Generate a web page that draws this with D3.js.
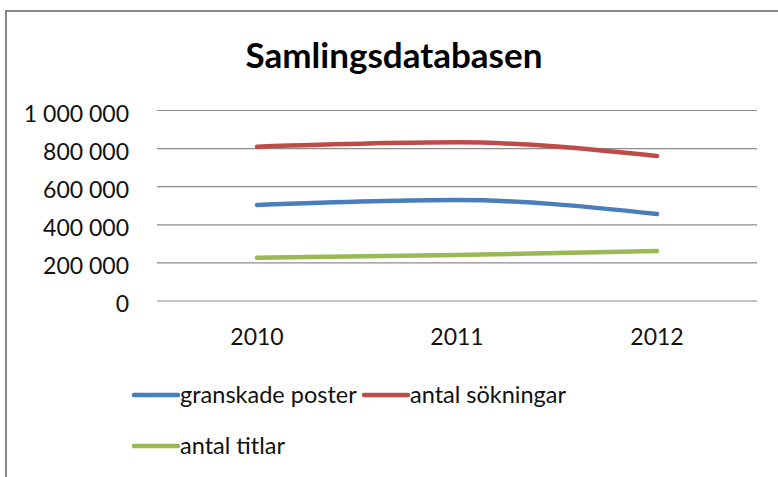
<html>
<head>
<script src="https://d3js.org/d3.v7.min.js"></script>
<style>
  body { margin: 0; background: #fff; }
  text { font-family: Lato, "Open Sans", sans-serif; }
</style>
</head>
<body>
<svg id="chart" width="778" height="477"></svg>
<script>
    var years = ['2010', '2011', '2012'];
    var granskade = [504000, 530000, 457000];
    var sokningar = [810000, 833000, 761000];
    var titlar = [227000, 241000, 262000];
    var yTicks = [0, 200000, 400000, 600000, 800000, 1000000];

    var series = [
        { name: 'granskade poster', values: granskade, color: '#4A7EBB' },
        { name: 'antal sökningar', values: sokningar, color: '#BE4B48' },
        { name: 'antal titlar', values: titlar, color: '#98B954' }
    ];

    var svg = d3.select('#chart');

    // outer frame
    svg.append('rect')
        .attr('x', 6).attr('y', 11)
        .attr('width', 800).attr('height', 500)
        .attr('fill', '#fff')
        .attr('stroke', '#868686')
        .attr('stroke-width', 2);

    svg.append('text')
        .attr('x', 394).attr('y', 68)
        .attr('text-anchor', 'middle')
        .attr('font-size', 35)
        .attr('font-weight', 'bold')
        .text('Samlingsdatabasen');

    var x = d3.scaleBand().domain(years).range([157, 757]);
    var y = d3.scaleLinear().domain([0, 1000000]).range([301, 110.5]);

    var fmt = function(d) {
        return d3.format(',')(d).replace(/,/g, ' ');
    };

    // gridlines
    svg.selectAll('line.grid')
        .data(yTicks)
        .enter()
        .append('line')
        .attr('class', 'grid')
        .attr('x1', 157).attr('x2', 757)
        .attr('y1', function(d) { return y(d); })
        .attr('y2', function(d) { return y(d); })
        .attr('stroke', '#8c8c8c')
        .attr('stroke-width', 1.2);

    svg.selectAll('text.ytick')
        .data(yTicks)
        .enter()
        .append('text')
        .attr('class', 'ytick')
        .attr('x', 129)
        .attr('y', function(d) { return y(d) + 11; })
        .attr('text-anchor', 'end')
        .attr('font-size', 23)
        .attr('fill', '#111')
        .text(fmt);

    svg.selectAll('text.xtick')
        .data(years)
        .enter()
        .append('text')
        .attr('class', 'xtick')
        .attr('x', function(d) { return x(d) + x.bandwidth() / 2; })
        .attr('y', 345)
        .attr('text-anchor', 'middle')
        .attr('font-size', 23)
        .attr('fill', '#111')
        .text(function(d) { return d; });

    var line = d3.line()
        .x(function(d, i) { return x(years[i]) + x.bandwidth() / 2; })
        .y(function(d) { return y(d); })
        .curve(d3.curveMonotoneX);

    svg.selectAll('path.series')
        .data(series)
        .enter()
        .append('path')
        .attr('class', 'series')
        .attr('fill', 'none')
        .attr('stroke', function(d) { return d.color; })
        .attr('stroke-width', 4.5)
        .attr('stroke-linecap', 'round')
        .attr('d', function(d) { return line(d.values); });

    // legend
    var legendPos = [[134, 395], [364, 395], [134, 446]];
    var leg = svg.selectAll('g.legend')
        .data(series)
        .enter()
        .append('g')
        .attr('class', 'legend')
        .attr('transform', function(d, i) { return 'translate(' + legendPos[i][0] + ',' + legendPos[i][1] + ')'; });

    leg.append('line')
        .attr('x1', 0).attr('x2', 44)
        .attr('stroke', function(d) { return d.color; })
        .attr('stroke-width', 4.5)
        .attr('stroke-linecap', 'round');

    leg.append('text')
        .attr('x', 46).attr('y', 8)
        .attr('font-size', 23.5)
        .attr('fill', '#111')
        .text(function(d) { return d.name; });
</script>
</body>
</html>
